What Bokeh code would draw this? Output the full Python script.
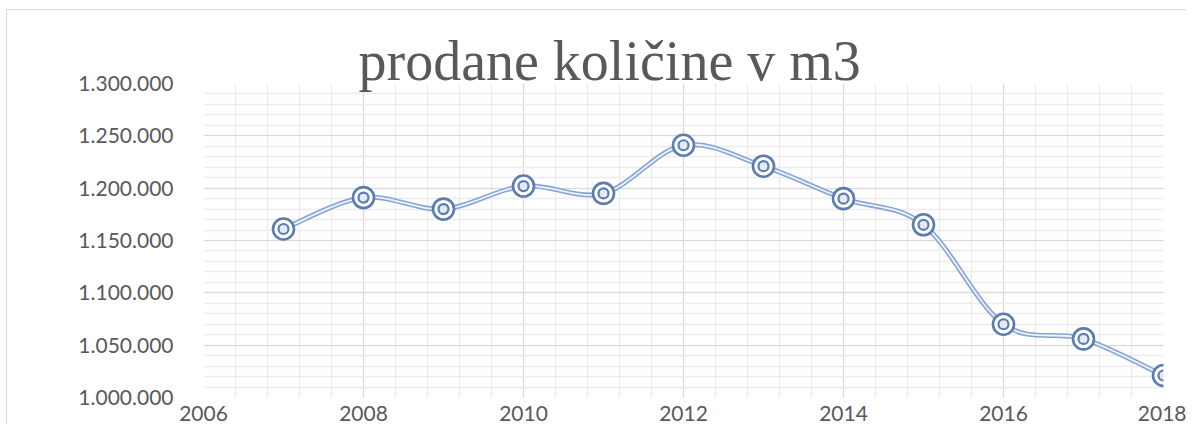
from bokeh.plotting import figure
from bokeh.models import FixedTicker
from bokeh.embed import file_html
from bokeh.resources import INLINE

# ---- data ----
years = [2007, 2008, 2009, 2010, 2011, 2012, 2013, 2014, 2015, 2016, 2017, 2018]
quantities = [1161000, 1191000, 1180000, 1202000, 1195000, 1241000,
              1221000, 1190000, 1165000, 1070000, 1056000, 1021000]
x_ticks = [2006, 2008, 2010, 2012, 2014, 2016, 2018]
y_ticks = [1000000, 1050000, 1100000, 1150000, 1200000, 1250000, 1300000]
y_tick_labels = ["1.000.000", "1.050.000", "1.100.000", "1.150.000",
                 "1.200.000", "1.250.000", "1.300.000"]
title_text = "prodane količine v m3"

GRAY = "#595959"

p = figure(width=1186, height=424,
           x_range=(2006, 2018), y_range=(1000000, 1300000),
           output_backend="svg", toolbar_location=None,
           min_border_left=203, min_border_right=23,
           min_border_top=83, min_border_bottom=27)
# thin chart-area border (left and top) drawn behind a transparent canvas border
p.border_fill_color = None
p.styles = {"background": ("linear-gradient(#d9d9d9,#d9d9d9) 6px 9px / 1px 100% no-repeat, "
                           "linear-gradient(#d9d9d9,#d9d9d9) 6px 9px / 100% 1px no-repeat, white")}
p.outline_line_color = None
p.background_fill_color = "white"

# title overlapping the top of the plot area
p.title.text = title_text
p.title.text_font = "Liberation Serif"
p.title.text_font_size = "56px"
p.title.text_font_style = "normal"
p.title.text_color = GRAY
p.title.align = "left"
p.title.offset = 155
p.title.standoff = -17

# ticks / grids
x_minor = [x_ticks[0] + 0.4 * i for i in range(31)]
y_minor = [y_ticks[0] + 10000 * i for i in range(31)]
p.xaxis.ticker = FixedTicker(ticks=x_ticks, minor_ticks=x_minor)
p.yaxis.ticker = FixedTicker(ticks=y_ticks, minor_ticks=y_minor)
p.yaxis.major_label_overrides = {t: s for t, s in zip(y_ticks, y_tick_labels)}

for g in (p.xgrid, p.ygrid):
    g.grid_line_color = "#d9d9d9"
    g.grid_line_width = 1
    g.minor_grid_line_color = "#ececec"
    g.minor_grid_line_width = 1.5

for ax in (p.xaxis, p.yaxis):
    ax.axis_line_color = None
    ax.major_tick_line_color = None
    ax.minor_tick_line_color = None
    ax.major_label_text_font = "Lato"
    ax.major_label_text_font_size = "21px"
    ax.major_label_text_color = GRAY
p.yaxis.major_label_standoff = 24
p.xaxis.major_label_standoff = 2

# smoothed line (Catmull-Rom style bezier control points from the data)
n = len(years)
x0, y0, x1, y1, cx0, cy0, cx1, cy1 = [], [], [], [], [], [], [], []
for i in range(n - 1):
    xm, ym = (years[i - 1], quantities[i - 1]) if i > 0 else (years[i], quantities[i])
    xp, yp = (years[i + 2], quantities[i + 2]) if i + 2 < n else (years[i + 1], quantities[i + 1])
    x0.append(years[i]); y0.append(quantities[i])
    x1.append(years[i + 1]); y1.append(quantities[i + 1])
    cx0.append(years[i] + (years[i + 1] - xm) / 6)
    cy0.append(quantities[i] + (quantities[i + 1] - ym) / 6)
    cx1.append(years[i + 1] - (xp - years[i]) / 6)
    cy1.append(quantities[i + 1] - (yp - quantities[i]) / 6)

p.bezier(x0=x0, y0=y0, x1=x1, y1=y1, cx0=cx0, cy0=cy0, cx1=cx1, cy1=cy1,
         line_color="#86a4d6", line_width=5)
p.bezier(x0=x0, y0=y0, x1=x1, y1=y1, cx0=cx0, cy0=cy0, cx1=cx1, cy1=cy1,
         line_color="#eef2fa", line_width=1.8)

# double-ring markers
MARK = "#5b7cb0"
p.scatter(years, quantities, marker="circle", size=21,
          fill_color="white", line_color=MARK, line_width=2.6)
p.scatter(years, quantities, marker="circle", size=10,
          fill_color="#e4ebf6", line_color=MARK, line_width=2.2)

open("out.html", "w").write(file_html(p, INLINE))
